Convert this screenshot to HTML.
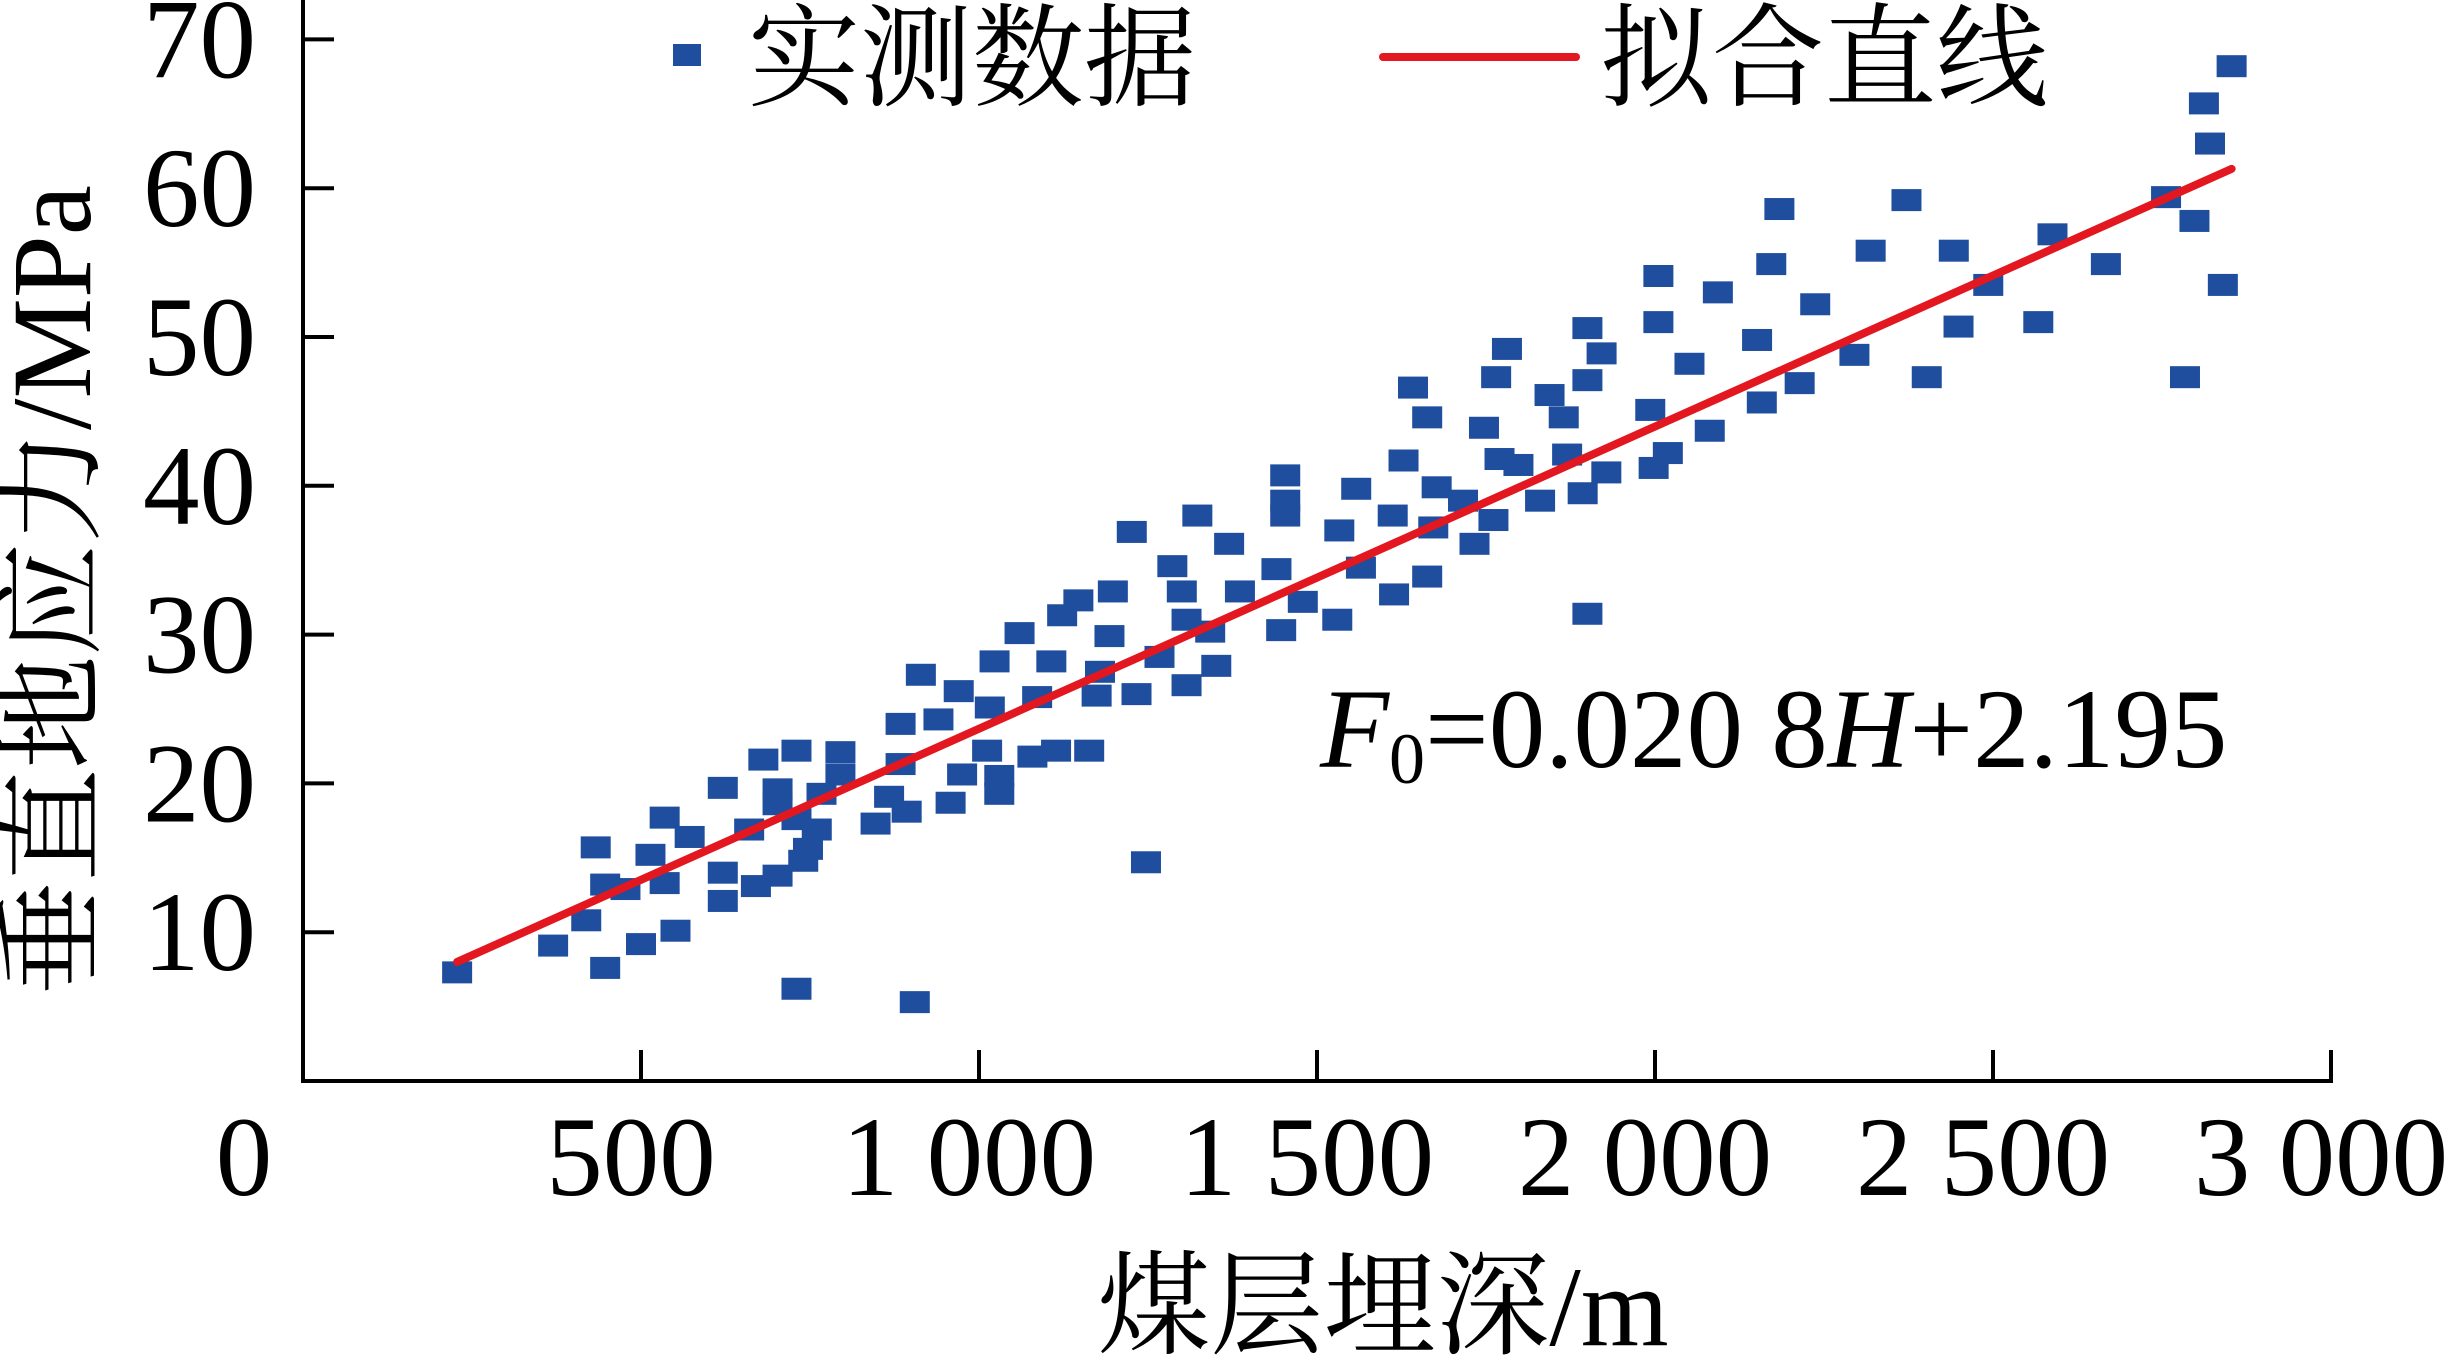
<!DOCTYPE html>
<html><head><meta charset="utf-8"><style>
html,body{margin:0;padding:0;background:#fff;}
svg{display:block;}
text{font-family:"Liberation Serif","Noto Serif CJK SC",serif;fill:#000;}
</style></head><body>
<svg id="chart" width="2464" height="1359" viewBox="0 0 2464 1359" xmlns="http://www.w3.org/2000/svg">
<g id="axes"></g>
<g id="points"></g>
<g id="fit"></g>
<g id="legend">
  <rect x="673" y="44" width="28" height="22" fill="#1f4e9e"/>
  <text x="748" y="97" font-size="112">实测数据</text>
  <line x1="1383" y1="57" x2="1576" y2="57" stroke="#e3171f" stroke-width="8" stroke-linecap="round"/>
  <text x="1600" y="97" font-size="112">拟合直线</text>
</g>
<text x="1320" y="767" font-size="113"><tspan font-style="italic">F</tspan><tspan font-size="72" dy="16">0</tspan><tspan dy="-16">=0.020 8</tspan><tspan font-style="italic">H</tspan><tspan>+2.195</tspan></text>
<text x="1383" y="1345" font-size="113" text-anchor="middle">煤层埋深/m</text>
<text transform="translate(90,590) rotate(-90)" font-size="113" text-anchor="middle">垂直地应力/MPa</text>
</svg>
<script>
const xTicks=[500,1000,1500,2000,2500,3000];
const xTickLabels=["500","1 000","1 500","2 000","2 500","3 000"];
const yTicks=[10,20,30,40,50,60,70];
const yTickLabels=["10","20","30","40","50","60","70"];
const depthH=[228,370,419,433,447,447,477,500,514,535,535,551,572,621,621,621,660,670,681,702,702,702,730,730,730,740,747,760,767,795,795,847,867,884,884,893,905,914,940,958,970,975,1012,1016,1023,1030,1030,1060,1079,1086,1107,1114,1123,1147,1163,1174,1179,1193,1198,1226,1233,1247,1267,1286,1300,1307,1307,1323,1342,1351,1370,1386,1440,1447,1453,1453,1453,1479,1530,1533,1558,1565,1612,1614,1628,1642,1663,1663,1672,1677,1716,1733,1747,1761,1765,1770,1781,1798,1830,1844,1865,1870,1893,1900,1900,1900,1921,1928,1993,1998,2005,2005,2019,2051,2081,2093,2151,2158,2172,2184,2214,2237,2295,2319,2372,2402,2442,2449,2493,2567,2588,2667,2756,2784,2798,2812,2821,2840,2853];
const stressV=[7.3,9.1,10.8,15.7,7.6,13.2,12.9,9.2,15.2,13.3,17.7,10.1,16.4,19.7,14.0,12.1,16.9,13.1,21.6,19.6,18.6,13.8,17.6,22.2,6.2,14.8,15.6,16.9,19.3,22.1,20.6,17.3,19.1,21.3,24.0,18.1,5.3,27.3,24.3,18.7,26.2,20.6,22.2,25.1,28.2,19.3,20.5,30.1,21.8,25.8,28.2,22.2,31.3,32.3,22.2,25.9,27.5,29.9,32.9,36.9,26.0,14.7,28.5,34.6,32.9,31.0,26.6,38.0,30.2,27.9,36.1,32.9,34.4,30.3,40.7,39.0,38.0,32.2,31.0,37.0,39.8,34.5,38.0,32.7,41.7,46.6,44.6,33.9,37.2,39.9,39.0,36.1,43.9,37.7,47.3,41.8,49.2,41.4,39.0,46.1,44.6,42.1,39.5,47.1,50.6,31.4,48.9,40.9,45.1,41.2,54.1,51.0,42.2,48.2,43.7,53.0,49.8,45.6,54.9,58.6,46.9,52.2,48.8,55.8,59.2,47.3,55.8,50.7,53.5,51.0,56.9,54.9,59.4,47.3,57.8,65.7,63.0,53.5,68.2];
const fitH=[228,2853];
const fitV=[8.0,61.3];

const X0=303, PX_PER=338/500, Y0=1081, PY_PER=14.88;
function sx(v){return X0+v*PX_PER;}
function sy(v){return Y0-v*PY_PER;}
const NS="http://www.w3.org/2000/svg";
function mk(tag,attrs,parent){const e=document.createElementNS(NS,tag);for(const k in attrs)e.setAttribute(k,attrs[k]);parent.appendChild(e);return e;}

const axes=document.getElementById('axes');
let e=mk('line',{x1:X0,y1:0,x2:X0,y2:Y0,stroke:'#000','stroke-width':4},axes);


e=mk('line',{x1:X0-2,y1:Y0,x2:sx(3000)+2,y2:Y0,stroke:'#000','stroke-width':4},axes);


e=mk('text',{x:244,y:1195,'font-size':113,'text-anchor':'middle'},axes);
e.textContent='0';


xTicks.forEach((t,i)=>{
  let l=mk('line',{x1:sx(t),y1:Y0,x2:sx(t),y2:Y0-31,stroke:'#000','stroke-width':4},axes);
  
  
  let tx=mk('text',{x:sx(t)-10,y:1195,'font-size':113,'text-anchor':'middle'},axes);
  tx.textContent=xTickLabels[i];
  
  
});
yTicks.forEach((t,i)=>{
  let l=mk('line',{x1:X0,y1:sy(t),x2:X0+31,y2:sy(t),stroke:'#000','stroke-width':4},axes);
  
  
  let tx=mk('text',{x:256,y:sy(t)+38,'font-size':113,'text-anchor':'end'},axes);
  tx.textContent=yTickLabels[i];
  
  
});
const pts=document.getElementById('points');
depthH.forEach((h,i)=>{
  let r=mk('rect',{x:sx(h)-15,y:sy(stressV[i])-11,width:30,height:22,fill:'#1f4e9e'},pts);
  
  
});
const fit=document.getElementById('fit');
e=mk('line',{x1:sx(fitH[0]),y1:sy(fitV[0]),x2:sx(fitH[1]),y2:sy(fitV[1]),stroke:'#e3171f','stroke-width':8,'stroke-linecap':'round'},fit);


</script>
</body></html>
